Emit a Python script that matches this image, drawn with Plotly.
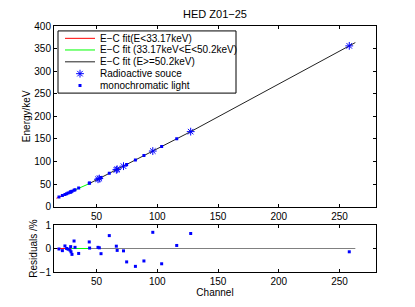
import plotly.graph_objects as go

# ---------------- data ----------------
# monochromatic light points: channel / energy (keV)
mono_ch = [19.1, 21.9, 24.0, 25.4, 26.6, 28.2, 28.7, 29.0, 29.8, 31.5, 32.3, 35.3,
           44.0, 44.3, 53.7, 60.5, 74.8, 82.0, 89.0, 103.6, 116.0]
mono_E = [21.0, 24.5, 27.0, 28.5, 30.0, 32.0, 32.5, 33.0, 34.0, 36.0, 37.0, 41.0,
          51.5, 52.0, 64.3, 73.6, 93.4, 103.3, 113.0, 133.0, 150.0]

# radioactive source points
src_ch = [51.2, 52.3, 66.3, 67.0, 72.2, 96.3, 127.5, 258.0]
src_E = [60.5, 62.0, 81.5, 82.5, 89.5, 123.0, 166.0, 356.0]

# fit segments (channel / energy end points)
fit1_ch = [17.0, 29.2]
fit1_E = [18.5, 33.17]
fit2_ch = [29.2, 43.5]
fit2_E = [33.17, 50.2]
fit3_ch = [43.5, 127.5, 263.0]
fit3_E = [50.2, 166.0, 363.3]

# residuals (%)
res_ch = [19.1, 21.9, 24.0, 25.4, 26.6, 28.2, 28.7, 29.0, 29.8, 31.5, 32.3, 35.3,
          44.0, 44.3, 51.2, 52.3, 53.7, 60.5, 66.3, 67.0, 72.2, 74.8, 82.0, 89.0,
          96.3, 103.6, 116.0, 127.5, 258.0]
res_val = [-0.02, -0.09, 0.11, 0.0, -0.03, -0.07, 0.08, -0.14, -0.25, 0.32, 0.05, -0.21,
           0.28, 0.02, 0.05, 0.03, -0.22, 0.55, 0.10, -0.08, -0.10, -0.57, -0.76, -0.53,
           0.69, -0.65, 0.13, 0.64, -0.14]

zero_ch1 = [17.0, 29.2]
zero_ch2 = [29.2, 43.5]
zero_ch3 = [43.5, 263.0]
zero_val = [0.0, 0.0]

xticks = [50, 100, 150, 200, 250]
yticks_top = [0, 50, 100, 150, 200, 250, 300, 350, 400]
yticks_bot = [-1, 0, 1]

legend_labels = ["E\u2212C fit(E<33.17keV)", "E\u2212C fit (33.17keV<E<50.2keV)",
                 "E\u2212C fit (E>=50.2keV)", "Radioactive souce", "monochromatic light"]

# ---------------- styling ----------------
FONT = "Liberation Sans, Arial, Helvetica, sans-serif"
RED = "#ff0000"
GREEN = "#00ff00"
BLACK = "#000000"
BLUE = "#0000ff"
GRAY = "#808080"
DARK = "#222222"

# the page body has an 8px margin, so the figure is offset by 8px
OFF = 8
W, H = 415 - OFF, 307 - OFF
# target window-pixel geometry
PX_L, PX_R, PX_T, PX_B = 54, 376, 23, 272.3
TOP_BOTTOM_PX = 206.0
BOT_TOP_PX = 224.7
TITLE_Y_PX = 14.0

ML = PX_L - OFF
MR = W - (PX_R - OFF)
MT = PX_T - OFF
MB = H - (PX_B - OFF)
PH = H - MT - MB

ASTER = dict(symbol="asterisk-open", size=6.5, color=BLUE, line=dict(color=BLUE, width=1))
DOT = dict(symbol="square", size=3, color=BLUE, line=dict(width=0))

fig = go.Figure()

# top plot
fig.add_trace(go.Scatter(x=fit1_ch, y=fit1_E, mode="lines", line=dict(color=RED, width=1),
                         xaxis="x", yaxis="y", showlegend=False))
fig.add_trace(go.Scatter(x=fit2_ch, y=fit2_E, mode="lines", line=dict(color=GREEN, width=1),
                         xaxis="x", yaxis="y", showlegend=False))
fig.add_trace(go.Scatter(x=fit3_ch, y=fit3_E, mode="lines", line=dict(color=DARK, width=1),
                         xaxis="x", yaxis="y", showlegend=False))
fig.add_trace(go.Scatter(x=src_ch, y=src_E, mode="markers", marker=ASTER,
                         xaxis="x", yaxis="y", showlegend=False))
fig.add_trace(go.Scatter(x=mono_ch, y=mono_E, mode="markers", marker=DOT,
                         xaxis="x", yaxis="y", showlegend=False))

# bottom plot
fig.add_trace(go.Scatter(x=zero_ch1, y=zero_val, mode="lines", line=dict(color=RED, width=1),
                         xaxis="x2", yaxis="y2", showlegend=False))
fig.add_trace(go.Scatter(x=zero_ch2, y=zero_val, mode="lines", line=dict(color=GREEN, width=1),
                         xaxis="x2", yaxis="y2", showlegend=False))
fig.add_trace(go.Scatter(x=zero_ch3, y=zero_val, mode="lines", line=dict(color=GRAY, width=1),
                         xaxis="x2", yaxis="y2", showlegend=False))
fig.add_trace(go.Scatter(x=res_ch, y=res_val, mode="markers", marker=DOT,
                         xaxis="x2", yaxis="y2", showlegend=False))

# ---------------- manual legend (overlay axes in window-pixel units) ----------------
LEG_X0, LEG_X1, LEG_Y0, LEG_Y1 = 58, 236, 28, 91
leg_rows = [35.5, 47.3, 59.3, 71.3, 83.3]
SAMPLE_X = [65, 95]
TEXT_X = 98
leg_line_colors = [RED, GREEN, DARK]
for i, c in enumerate(leg_line_colors):
    fig.add_trace(go.Scatter(x=SAMPLE_X, y=[leg_rows[i]] * 2, mode="lines",
                             line=dict(color=c, width=1), xaxis="x3", yaxis="y3",
                             showlegend=False, hoverinfo="skip"))
fig.add_trace(go.Scatter(x=[sum(SAMPLE_X) / 2], y=[leg_rows[3]], mode="markers", marker=ASTER,
                         xaxis="x3", yaxis="y3", showlegend=False, hoverinfo="skip"))
fig.add_trace(go.Scatter(x=[sum(SAMPLE_X) / 2], y=[leg_rows[4]], mode="markers", marker=DOT,
                         xaxis="x3", yaxis="y3", showlegend=False, hoverinfo="skip"))

annotations = []
for lab, yy in zip(legend_labels, leg_rows):
    annotations.append(dict(x=TEXT_X, y=yy, xref="x3", yref="y3", text=lab, showarrow=False,
                            xanchor="left", yanchor="middle",
                            font=dict(family=FONT, size=10, color=BLACK)))

shapes = [dict(type="rect", xref="x3", yref="y3", x0=LEG_X0, x1=LEG_X1, y0=LEG_Y0, y1=LEG_Y1,
               line=dict(color=BLACK, width=1), fillcolor="white", layer="below")]

axis_common = dict(showline=True, linecolor=BLACK, linewidth=1, mirror="ticks", ticks="inside",
                   ticklen=3, tickcolor=BLACK, showgrid=False, zeroline=False,
                   tickfont=dict(family=FONT, size=10, color=BLACK))

TOP_DOM = [(PX_B - TOP_BOTTOM_PX) / PH, 1.0]
BOT_DOM = [0.0, (PX_B - BOT_TOP_PX) / PH]

fig.update_layout(
    width=W, height=H,
    margin=dict(l=ML, r=MR, t=MT, b=MB, pad=0),
    paper_bgcolor="white", plot_bgcolor="white",
    showlegend=False,
    title=dict(text="HED Z01\u221225", x=((PX_L + PX_R) / 2 - OFF) / W, xanchor="center",
               y=1 - (TITLE_Y_PX - OFF) / H, yanchor="middle",
               font=dict(family=FONT, size=11, color=BLACK)),
    xaxis=dict(domain=[0, 1], range=[15, 280], tickvals=xticks, anchor="y",
               showticklabels=True, **axis_common),
    yaxis=dict(domain=TOP_DOM, range=[0, 400], tickvals=yticks_top, anchor="x",
               title=dict(text="Energy/keV", standoff=1, font=dict(family=FONT, size=10, color=BLACK)),
               **axis_common),
    xaxis2=dict(domain=[0, 1], range=[15, 280], tickvals=xticks, anchor="y2",
                title=dict(text="Channel", standoff=0, font=dict(family=FONT, size=10, color=BLACK)),
                **axis_common),
    yaxis2=dict(domain=BOT_DOM, range=[-1, 1], tickvals=yticks_bot, anchor="x2",
                title=dict(text="Residuals /%", standoff=0, font=dict(family=FONT, size=10, color=BLACK)),
                **axis_common),
    xaxis3=dict(overlaying="x", range=[PX_L, PX_R], visible=False, anchor="y3", fixedrange=True),
    yaxis3=dict(overlaying="y", range=[TOP_BOTTOM_PX, PX_T], visible=False, anchor="x3", fixedrange=True),
    annotations=annotations,
    shapes=shapes,
)

fig.write_html("out.html")
